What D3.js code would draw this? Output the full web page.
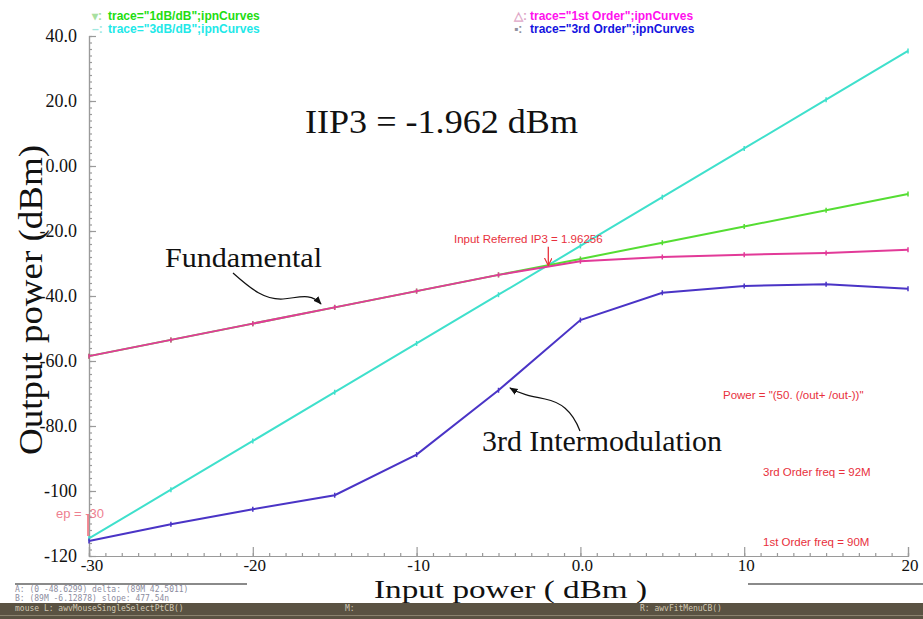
<!DOCTYPE html>
<html>
<head>
<meta charset="utf-8">
<script src="https://cdn.jsdelivr.net/npm/d3@7"></script>
<style>
  html, body { margin: 0; padding: 0; background: #fff; }
  svg { display: block; }
  .serif { font-family: "Liberation Serif", "Times New Roman", serif; fill: #111; }
  .note { font-family: "Liberation Sans", Arial, sans-serif; font-size: 11.5px; fill: #e8303c; }
  .legend { font-family: "Liberation Sans", Arial, sans-serif; font-size: 12px; font-weight: bold; }
  .status { font-family: "DejaVu Sans Mono", monospace; font-size: 8px; }
</style>
</head>
<body>
<div id="chart"></div>
<script>
// input power sweep (dBm) and the four ipnCurves traces
const inputPower = [-30, -25, -20, -15, -10, -5, 0, 5, 10, 15, 20];
const firstOrder = [-58.5, -53.5, -48.5, -43.5, -38.5, -33.5, -29.3, -28.0, -27.3, -26.8, -25.8];
const oneDbPerDb = [-58.5, -53.5, -48.5, -43.5, -38.5, -33.5, -28.6, -23.6, -18.6, -13.6, -8.6];
const threeDbPerDb = [-114.6, -99.6, -84.6, -69.6, -54.6, -39.6, -24.6, -9.6, 5.4, 20.4, 35.4];
const thirdOrder = [-115.4, -110.2, -105.6, -101.3, -88.8, -69.0, -47.4, -39.0, -36.9, -36.4, -37.8];
const ip3Point = [-1.96, -30.7];

const xTicks = [-30, -20, -10, 0, 10, 20];
const xTickLabels = ['-30', '-20', '-10', '0.0', '10', '20'];
const yTicks = [40, 20, 0, -20, -40, -60, -80, -100, -120];
const yTickLabels = ['40.0', '20.0', '0.00', '-20.0', '-40.0', '-60.0', '-80.0', '-100', '-120'];

const legendItems = [
  { label: 'trace="1dB/dB";ipnCurves', color: '#22dd11', glyph: '\u25BE', glyphColor: '#a8e0a0' },
  { label: 'trace="3dB/dB";ipnCurves', color: '#22e8e8', glyph: '\u2013', glyphColor: '#a0e8e0' },
  { label: 'trace="1st Order";ipnCurves', color: '#ff10ee', glyph: '\u25B3', glyphColor: '#e0a8c8' },
  { label: 'trace="3rd Order";ipnCurves', color: '#1414e0', glyph: '\u25AA', glyphColor: '#9090a0' }
];

const width = 923;
const height = 619;

const svg = d3.select('#chart').append('svg')
  .attr('width', width)
  .attr('height', height);

const x = d3.scaleLinear().domain([-30, 20]).range([89, 908]);
const y = d3.scaleLinear().domain([-120, 40]).range([556, 36]);

// axes: ticks point into the plot
const axisColor = '#9a9a9a';
const xAxisMinor = svg.append('g').attr('transform', `translate(0,${y(-120)})`)
  .call(d3.axisTop(x).ticks(50).tickSize(3).tickFormat(''));
const xAxisMajor = svg.append('g').attr('transform', `translate(0,${y(-120)})`)
  .call(d3.axisTop(x).tickValues(xTicks).tickSize(9).tickFormat(''));
const yAxisMinor = svg.append('g').attr('transform', `translate(${x(-30)},0)`)
  .call(d3.axisRight(y).ticks(80).tickSize(3).tickFormat(''));
const yAxisMajor = svg.append('g').attr('transform', `translate(${x(-30)},0)`)
  .call(d3.axisRight(y).tickValues(yTicks).tickSize(7).tickFormat(''));

[xAxisMinor, xAxisMajor, yAxisMinor, yAxisMajor].forEach((g) => {
  g.selectAll('path, line').attr('stroke', axisColor).attr('stroke-width', 1.2);
});

svg.append('g').selectAll('text')
  .data(xTicks)
  .join('text')
  .attr('class', 'serif')
  .attr('x', (d, i) => x(d) + (i === 0 ? 3 : 2))
  .attr('y', 571)
  .attr('text-anchor', 'middle')
  .attr('font-size', 17)
  .text((d, i) => xTickLabels[i]);

svg.append('g').selectAll('text')
  .data(yTicks)
  .join('text')
  .attr('class', 'serif')
  .attr('x', 77)
  .attr('y', (d) => y(d) + 6)
  .attr('text-anchor', 'end')
  .attr('font-size', 18)
  .text((d, i) => yTickLabels[i]);

// curves
const line = d3.line().x((d) => x(d[0])).y((d) => y(d[1]));
const series = [
  { values: threeDbPerDb, color: '#3fe0cc' },
  { values: oneDbPerDb, color: '#55dd33' },
  { values: firstOrder, color: '#e23a98' },
  { values: thirdOrder, color: '#4a34c6' }
];

series.forEach((s) => {
  const pts = inputPower.map((p, i) => [p, s.values[i]]);
  svg.append('path')
    .datum(pts)
    .attr('fill', 'none')
    .attr('stroke', s.color)
    .attr('stroke-width', 2)
    .attr('d', line);
  svg.append('g').selectAll('line')
    .data(pts)
    .join('line')
    .attr('x1', (d) => x(d[0]))
    .attr('x2', (d) => x(d[0]))
    .attr('y1', (d) => y(d[1]) - 2.5)
    .attr('y2', (d) => y(d[1]) + 2.5)
    .attr('stroke', s.color)
    .attr('stroke-width', 1.5);
});

// legend
legendItems.forEach((item, i) => {
  const lx = i < 2 ? 92 : 514;
  const ly = 20 + (i % 2) * 13;
  svg.append('text')
    .attr('class', 'legend')
    .attr('x', lx)
    .attr('y', ly)
    .attr('fill', item.glyphColor)
    .attr('font-size', 9)
    .text(item.glyph + ':');
  svg.append('text')
    .attr('class', 'legend')
    .attr('x', lx + 16)
    .attr('y', ly)
    .attr('fill', item.color)
    .text(item.label);
});

// markers and annotations
const defs = svg.append('defs');
defs.append('marker').attr('id', 'arrow-black')
  .attr('viewBox', '0 0 10 10').attr('refX', 9).attr('refY', 5)
  .attr('markerWidth', 7).attr('markerHeight', 7).attr('orient', 'auto-start-reverse')
  .append('path').attr('d', 'M0,1 L10,5 L0,9 z').attr('fill', '#111');
defs.append('marker').attr('id', 'arrow-red')
  .attr('viewBox', '0 0 10 10').attr('refX', 9).attr('refY', 5)
  .attr('markerWidth', 6).attr('markerHeight', 6).attr('orient', 'auto')
  .append('path').attr('d', 'M0,0 L10,5 L0,10').attr('fill', 'none').attr('stroke', '#e8303c').attr('stroke-width', 1.5);

svg.append('line')
  .attr('x1', x(ip3Point[0])).attr('x2', x(ip3Point[0]))
  .attr('y1', y(ip3Point[1]) - 19).attr('y2', y(ip3Point[1]) - 1)
  .attr('stroke', '#e8303c').attr('stroke-width', 1.3)
  .attr('marker-end', 'url(#arrow-red)');

svg.append('text').attr('class', 'note')
  .attr('x', x(ip3Point[0]) - 20).attr('y', y(ip3Point[1]) - 23)
  .attr('text-anchor', 'middle')
  .text('Input Referred IP3 = 1.96256');

svg.append('line')
  .attr('x1', x(-30) - 1).attr('x2', x(-30) - 1)
  .attr('y1', 514).attr('y2', 536)
  .attr('stroke', '#ee5060').attr('stroke-width', 1.3);
svg.append('text')
  .attr('x', 56).attr('y', 518)
  .attr('font-family', '"Liberation Sans", Arial, sans-serif')
  .attr('font-size', 13)
  .attr('fill', '#ee8090')
  .text('ep = -30');

svg.append('text').attr('class', 'note').attr('x', 723).attr('y', 399).text('Power = "(50. (/out+ /out-))"');
svg.append('text').attr('class', 'note').attr('x', 763).attr('y', 476).text('3rd Order freq = 92M');
svg.append('text').attr('class', 'note').attr('x', 763).attr('y', 546).text('1st Order freq = 90M');

svg.append('text').attr('class', 'serif')
  .attr('x', 305).attr('y', 133)
  .attr('font-size', 34)
  .attr('textLength', 273).attr('lengthAdjust', 'spacingAndGlyphs')
  .text('IIP3 = -1.962 dBm');

svg.append('text').attr('class', 'serif')
  .attr('x', 165).attr('y', 267)
  .attr('font-size', 28)
  .attr('textLength', 157).attr('lengthAdjust', 'spacingAndGlyphs')
  .text('Fundamental');
svg.append('path')
  .attr('d', 'M233,273 C252,290 265,300 283,299 C298,298 310,292 321,304')
  .attr('fill', 'none').attr('stroke', '#111').attr('stroke-width', 1.2)
  .attr('marker-end', 'url(#arrow-black)');

svg.append('text').attr('class', 'serif')
  .attr('x', 482).attr('y', 451)
  .attr('font-size', 29)
  .attr('textLength', 240).attr('lengthAdjust', 'spacingAndGlyphs')
  .text('3rd Intermodulation');
svg.append('path')
  .attr('d', 'M580,431 C572,410 560,402 545,399 C530,396 520,394 510,388')
  .attr('fill', 'none').attr('stroke', '#111').attr('stroke-width', 1.2)
  .attr('marker-end', 'url(#arrow-black)');

// axis titles
svg.append('text').attr('class', 'serif')
  .attr('transform', 'translate(42,300) rotate(-90)')
  .attr('text-anchor', 'middle')
  .attr('font-size', 34)
  .attr('textLength', 310).attr('lengthAdjust', 'spacingAndGlyphs')
  .text('Output  power  (dBm)');

svg.append('text').attr('class', 'serif')
  .attr('x', 374).attr('y', 598)
  .attr('font-size', 25)
  .attr('textLength', 273).attr('lengthAdjust', 'spacingAndGlyphs')
  .text('Input power ( dBm )');

// status area at the bottom
svg.append('line').attr('x1', 15).attr('x2', 247).attr('y1', 584).attr('y2', 584)
  .attr('stroke', '#8a8a8a').attr('stroke-width', 2);
svg.append('line').attr('x1', 748).attr('x2', 923).attr('y1', 584).attr('y2', 584)
  .attr('stroke', '#8a8a8a').attr('stroke-width', 2);
svg.append('text').attr('class', 'status').attr('x', 15).attr('y', 592).attr('fill', '#8c8ca0')
  .text('A: (0 -48.6299)    delta: (89M 42.5011)');
svg.append('text').attr('class', 'status').attr('x', 15).attr('y', 601).attr('fill', '#8c8ca0')
  .text('B: (89M -6.12878) slope: 477.54n');

svg.append('rect').attr('x', 0).attr('y', 603).attr('width', width).attr('height', 16).attr('fill', '#5a5242');
svg.append('rect').attr('x', 0).attr('y', 615).attr('width', width).attr('height', 1).attr('fill', '#8a826e');
svg.append('text').attr('class', 'status').attr('x', 15).attr('y', 611).attr('fill', '#d0c8b4')
  .text('mouse L: awvMouseSingleSelectPtCB()');
svg.append('text').attr('class', 'status').attr('x', 345).attr('y', 611).attr('fill', '#d0c8b4').text('M:');
svg.append('text').attr('class', 'status').attr('x', 640).attr('y', 611).attr('fill', '#d0c8b4')
  .text('R:  awvFitMenuCB()');
</script>
</body>
</html>
